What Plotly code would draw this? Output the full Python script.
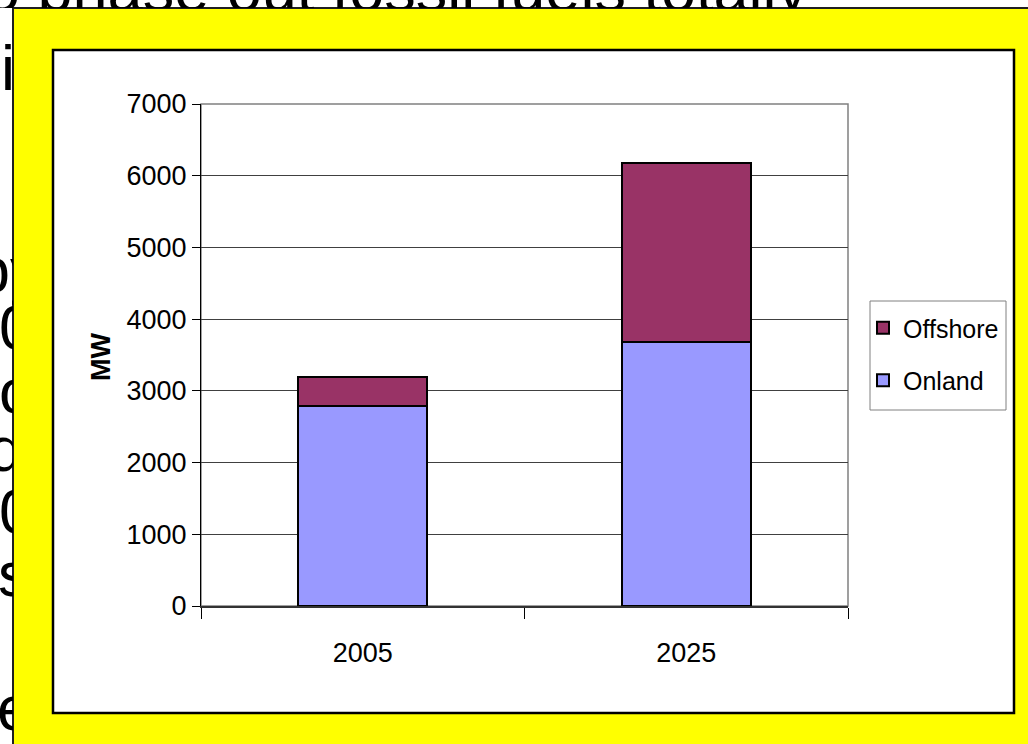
import plotly.graph_objects as go

W, H = 1028, 744

# chart data
years = ["2005", "2025"]
onland = [2790, 3680]
offshore = [400, 2500]
legend_names = ["Onland", "Offshore"]
y_title = "MW"

# slide text peeking out around the chart frame
top_line = "o phase out fossil fuels totally"
side_glyphs = ["i", "by", "0", "o", "d", "0", "s", "e"]
side_baselines = [90, 292, 349, 413, 471, 533, 596, 730]
side_starts = [1, -25, -1, -1, -12, -1, -2, -3]

CHART_FONT = "Liberation Sans, Arial, sans-serif"
SLIDE_FONT = "Liberation Sans, Arial, sans-serif"
SLIDE_SIZE = 63


def px(x):
    return x / W


def py(y):
    return 1 - y / H


fig = go.Figure()

fig.add_trace(go.Bar(
    x=years, y=onland, name=legend_names[0],
    marker=dict(color="#9999FF", line=dict(color="black", width=2)),
    legendgroup="onland", legendrank=2,
))
fig.add_trace(go.Bar(
    x=years, y=offshore, name=legend_names[1],
    marker=dict(color="#993366", line=dict(color="black", width=2)),
    legendgroup="offshore", legendrank=1,
))

# glyphs at the left edge of the slide (clipped by their strip subplot)
fig.add_trace(go.Scatter(
    x=side_starts,
    y=[b - 0.25 * SLIDE_SIZE for b in side_baselines],
    text=side_glyphs, mode="text", textposition="middle right",
    textfont=dict(family=SLIDE_FONT, size=SLIDE_SIZE, color="black"),
    xaxis="x2", yaxis="y2", showlegend=False, hoverinfo="skip", cliponaxis=True,
))
# heading line along the top edge of the slide
fig.add_trace(go.Scatter(
    x=[-15], y=[11 - 0.25 * SLIDE_SIZE],
    text=[top_line], mode="text", textposition="middle right",
    textfont=dict(family=SLIDE_FONT, size=SLIDE_SIZE, color="black"),
    xaxis="x3", yaxis="y3", showlegend=False, hoverinfo="skip", cliponaxis=True,
))

shapes = [
    # yellow frame
    dict(type="rect", xref="paper", yref="paper",
         x0=px(13), x1=1.02, y0=-0.02, y1=py(8),
         fillcolor="#FFFF00", line=dict(color="#202020", width=2), layer="below"),
    # white chart area
    dict(type="rect", xref="paper", yref="paper",
         x0=px(53), x1=px(1014), y0=py(713), y1=py(50),
         fillcolor="white", line=dict(color="black", width=2.5), layer="below"),
    # plot area border (top / right in grey)
    dict(type="rect", xref="paper", yref="paper",
         x0=px(201), x1=px(848), y0=py(606), y1=py(104),
         fillcolor="rgba(0,0,0,0)", line=dict(color="#808080", width=1.5), layer="below"),
    # legend box
    dict(type="rect", xref="paper", yref="paper",
         x0=px(870), x1=px(1006), y0=py(410), y1=py(301),
         fillcolor="white", line=dict(color="#808080", width=1), layer="below"),
]

tick_font = dict(family=CHART_FONT, size=27, color="black")

fig.update_layout(
    width=W, height=H,
    margin=dict(l=0, r=0, t=0, b=0, autoexpand=False),
    paper_bgcolor="white",
    plot_bgcolor="rgba(0,0,0,0)",
    barmode="stack",
    bargap=0.6,
    shapes=shapes,
    showlegend=True,
    legend=dict(
        x=px(863), y=py(305), xanchor="left", yanchor="top",
        bgcolor="rgba(0,0,0,0)", borderwidth=0,
        font=dict(family=CHART_FONT, size=25, color="black"),
        traceorder="grouped", tracegroupgap=17,
        itemwidth=30,
    ),
    xaxis=dict(
        domain=[px(201), px(848)], anchor="y", type="category", automargin=False,
        tickson="boundaries", ticks="outside", ticklen=11, tickcolor="black", tickwidth=1,
        showline=True, linecolor="#333333", linewidth=2, showgrid=False,
        ticklabelstandoff=22,
        tickfont=tick_font,
    ),
    yaxis=dict(
        domain=[py(606), py(104)], anchor="x", range=[0, 7000], dtick=1000, automargin=False,
        showgrid=True, gridcolor="#404040", gridwidth=1,
        showline=True, linecolor="black", linewidth=1,
        ticks="outside", ticklen=8, tickcolor="black", zeroline=False,
        ticklabelstandoff=0,
        tickfont=tick_font,
    ),
    xaxis2=dict(domain=[0, px(13)], range=[0, 13], visible=False, anchor="y2", automargin=False),
    yaxis2=dict(domain=[0, 1], range=[H, 0], visible=False, anchor="x2", automargin=False),
    xaxis3=dict(domain=[0, 1], range=[0, W], visible=False, anchor="y3", automargin=False),
    yaxis3=dict(domain=[py(8), 1], range=[8, 0], visible=False, anchor="x3", automargin=False),
    annotations=[dict(
        text="<b>" + y_title + "</b>", textangle=-90,
        x=px(101), y=py(357), xref="paper", yref="paper",
        xanchor="center", yanchor="middle", showarrow=False,
        font=dict(family=CHART_FONT, size=27, color="black"),
    )],
)

fig.write_html("out.html")
